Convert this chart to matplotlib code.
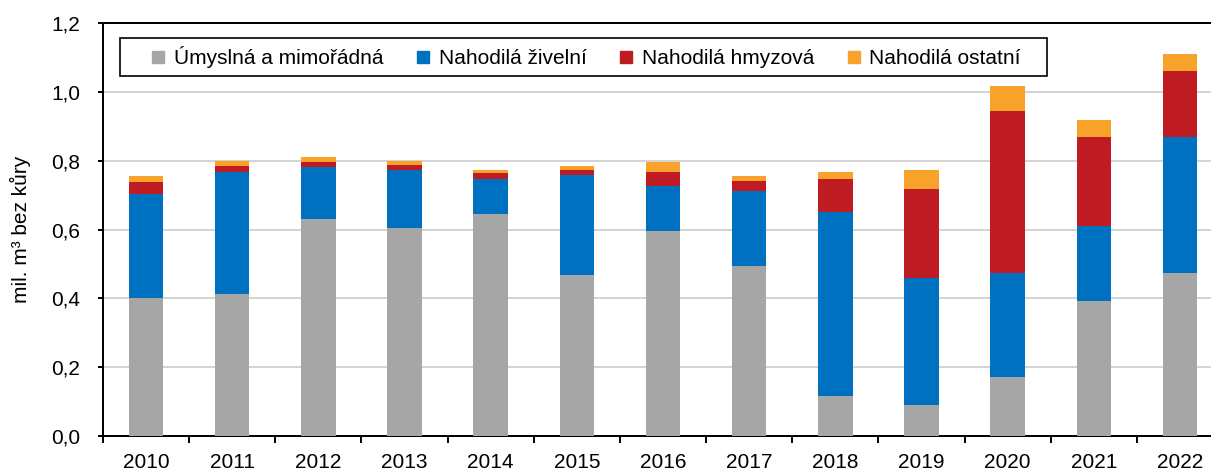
import matplotlib
matplotlib.use("Agg")
import matplotlib.pyplot as plt
from matplotlib.lines import Line2D
from matplotlib.patches import Rectangle
from matplotlib.ticker import FixedLocator, FuncFormatter
import numpy as np

plt.rcParams['font.family'] = ['Liberation Sans', 'DejaVu Sans']

years = ['2010', '2011', '2012', '2013', '2014', '2015', '2016',
         '2017', '2018', '2019', '2020', '2021', '2022']
umyslna = [0.401, 0.413, 0.630, 0.605, 0.645, 0.469, 0.597, 0.494, 0.116, 0.090, 0.172, 0.392, 0.475]
zivelni = [0.302, 0.356, 0.151, 0.167, 0.103, 0.289, 0.129, 0.217, 0.534, 0.368, 0.301, 0.219, 0.394]
hmyzova = [0.036, 0.017, 0.016, 0.015, 0.016, 0.016, 0.041, 0.031, 0.096, 0.260, 0.472, 0.258, 0.193]
ostatni = [0.017, 0.015, 0.015, 0.013, 0.009, 0.011, 0.031, 0.014, 0.023, 0.055, 0.072, 0.049, 0.049]

series_names = ['Úmyslná a mimořádná', 'Nahodilá živelní', 'Nahodilá hmyzová', 'Nahodilá ostatní']
colors = ['#A6A6A6', '#0070C0', '#BE1B22', '#F9A229']

FS = 15
W, H = 1211, 470
fig = plt.figure(figsize=(W / 100, H / 100), dpi=100)
ax_left, ax_right = 103, 1223
ax_top, ax_bottom = 23.3, 436
ax = fig.add_axes([ax_left / W, (H - ax_bottom) / H,
                   (ax_right - ax_left) / W, (ax_bottom - ax_top) / H])

x = np.arange(len(years))
bottom = np.zeros(len(years))
for vals, c, name in zip([umyslna, zivelni, hmyzova, ostatni], colors, series_names):
    ax.bar(x, vals, width=0.4, bottom=bottom, color=c, label=name, zorder=3, linewidth=0)
    bottom += np.array(vals)

ax.set_xlim(-0.5, len(years) - 0.5)
ax.set_ylim(0, 1.2)
ax.set_yticks(np.arange(0, 1.21, 0.2))
ax.yaxis.set_major_formatter(FuncFormatter(lambda v, p: f"{v:.1f}".replace('.', ',')))
ax.set_xticks(x)
ax.set_xticklabels(years)
ax.xaxis.set_minor_locator(FixedLocator(np.arange(-0.5, len(years), 1.0)))

ax.tick_params(axis='x', which='major', length=0, pad=12.5, labelsize=FS)
ax.tick_params(axis='x', which='minor', length=5, width=1.4, direction='out', color='black')
ax.tick_params(axis='y', which='major', length=3.6, width=1.4, pad=13, labelsize=FS)

ax.grid(axis='y', color='#C8C8C8', linewidth=1.1, zorder=0)
ax.set_axisbelow(True)
for s in ax.spines.values():
    s.set_linewidth(1.44)
    s.set_color('black')

ax.set_ylabel('mil. m³ bez kůry', fontsize=FS, labelpad=14.5)

# legend frame
axh = ax_bottom - ax_top
axw = ax_right - ax_left
fx0 = (120 - ax_left) / axw
fy0 = (ax_bottom - 76) / axh
fw = (1047 - 120) / axw
fh = (76 - 38) / axh
ax.add_patch(Rectangle((fx0, fy0), fw, fh, transform=ax.transAxes,
                       facecolor='white', edgecolor='black', linewidth=1.2, zorder=5))

handles = [Line2D([], [], marker='s', linestyle='', color=c, markersize=8) for c in colors]
leg = ax.legend(handles, series_names, ncol=4, frameon=False,
                loc='center left',
                bbox_to_anchor=((153 - ax_left) / axw, (ax_bottom - 57) / axh),
                borderaxespad=0, borderpad=0, handlelength=0.5,
                handletextpad=0.5, columnspacing=1.65, fontsize=FS)
leg.set_zorder(6)

fig.savefig('out.png', dpi=100)
